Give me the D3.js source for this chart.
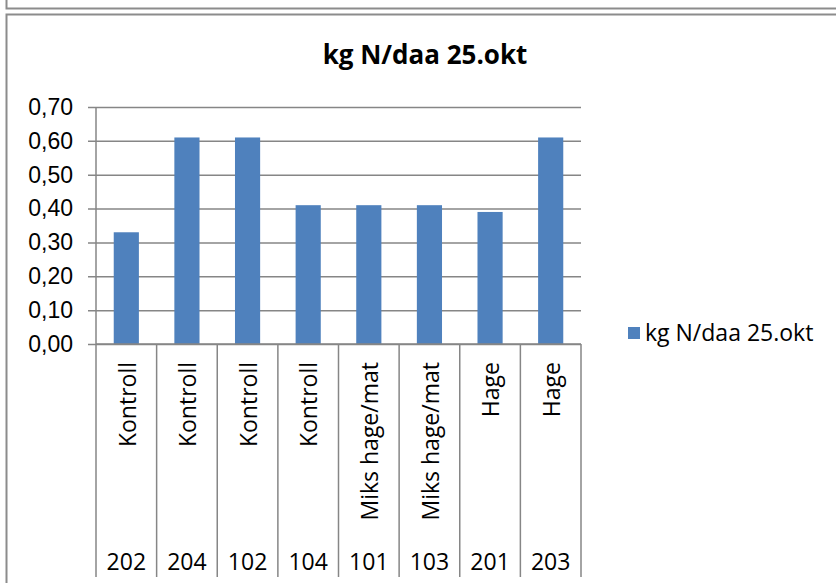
<!DOCTYPE html>
<html>
<head>
<meta charset="utf-8">
<script src="https://cdn.jsdelivr.net/npm/d3@7"></script>
<style>
  body { margin: 0; background: #fff; }
  svg { display: block; font-family: "Open Sans", "Liberation Sans", sans-serif; }
  .axis-text { font-size: 23px; fill: #000; }
</style>
</head>
<body>
<svg id="chart"></svg>
<script>
// data
const plotIds = ['202', '204', '102', '104', '101', '103', '201', '203'];
const treatments = ['Kontroll', 'Kontroll', 'Kontroll', 'Kontroll', 'Miks hage/mat', 'Miks hage/mat', 'Hage', 'Hage'];
const nValues = [0.33, 0.61, 0.61, 0.41, 0.41, 0.41, 0.39, 0.61];
const yTicks = [0, 0.1, 0.2, 0.3, 0.4, 0.5, 0.6, 0.7];
const seriesName = 'kg N/daa 25.okt';

const width = 836, height = 583;
const margin = {top: 107, right: 255, bottom: 239, left: 96};
const gridColor = '#868686';
const barColor = '#4f81bd';

const svg = d3.select('#chart')
    .attr('width', width)
    .attr('height', height);

// frames (previous chart box peeking at top, and this chart's box)
svg.append('path')
    .attr('d', `M6.5,0 V8.5 H${width}`)
    .attr('fill', 'none').attr('stroke', '#8c8c8c').attr('stroke-width', 2);
svg.append('path')
    .attr('d', `M6.5,${height} V14.5 H${width}`)
    .attr('fill', 'none').attr('stroke', '#8c8c8c').attr('stroke-width', 2);

const x = d3.scaleBand()
    .domain(d3.range(plotIds.length))
    .range([margin.left, width - margin.right])
    .paddingInner(0.585)
    .paddingOuter(0.2925);

const y = d3.scaleLinear()
    .domain([0, 0.7])
    .range([height - margin.bottom, margin.top]);

const fmt = v => d3.format('.2f')(v).replace('.', ',');

// y axis with gridlines
const yAxis = d3.axisLeft(y)
    .tickValues(yTicks)
    .tickSize(-(width - margin.right - margin.left))
    .tickFormat(fmt)
    .tickPadding(23);

svg.append('g')
    .attr('transform', `translate(${margin.left},0)`)
    .call(yAxis)
    .call(g => g.select('.domain').remove())
    .call(g => g.selectAll('.tick line')
        .attr('x1', -8)
        .attr('stroke', gridColor)
        .attr('stroke-width', 1.5))
    .call(g => g.selectAll('.tick text')
        .attr('class', 'axis-text')
        .attr('font-family', null)
        .attr('font-size', null));

// vertical axis line
svg.append('line')
    .attr('x1', margin.left).attr('x2', margin.left)
    .attr('y1', y(0.7)).attr('y2', y(0))
    .attr('stroke', gridColor).attr('stroke-width', 1.5);

// bars
svg.append('g')
    .selectAll('rect')
    .data(nValues)
    .join('rect')
    .attr('x', (d, i) => x(i))
    .attr('y', d => y(d))
    .attr('width', x.bandwidth())
    .attr('height', d => y(0) - y(d))
    .attr('fill', barColor);

// category axis: two-level labels with separators
const step = x.step();
const catBottom = 577;
const separators = d3.range(plotIds.length + 1).map(i => margin.left + i * step);

svg.append('g')
    .selectAll('line')
    .data(separators)
    .join('line')
    .attr('x1', d => d).attr('x2', d => d)
    .attr('y1', y(0)).attr('y2', catBottom)
    .attr('stroke', gridColor).attr('stroke-width', 1.5);

svg.append('line')
    .attr('x1', margin.left).attr('x2', width - margin.right)
    .attr('y1', y(0)).attr('y2', y(0))
    .attr('stroke', gridColor).attr('stroke-width', 1.5);

const center = i => x(i) + x.bandwidth() / 2;

svg.append('g')
    .selectAll('text')
    .data(treatments)
    .join('text')
    .attr('class', 'axis-text')
    .attr('transform', (d, i) => `translate(${center(i) + 1},362) rotate(-90)`)
    .attr('text-anchor', 'end')
    .attr('dy', '0.36em')
    .text(d => d);

svg.append('g')
    .selectAll('text')
    .data(plotIds)
    .join('text')
    .attr('class', 'axis-text')
    .attr('x', (d, i) => center(i))
    .attr('y', 570)
    .attr('text-anchor', 'middle')
    .text(d => d);

// title
svg.append('text')
    .attr('x', 425)
    .attr('y', 64)
    .attr('text-anchor', 'middle')
    .attr('font-size', 26)
    .attr('font-weight', 'bold')
    .text(seriesName);

// legend
const legend = svg.append('g').attr('transform', 'translate(628,333)');
legend.append('rect')
    .attr('x', 0).attr('y', -6)
    .attr('width', 12).attr('height', 12)
    .attr('fill', barColor);
legend.append('text')
    .attr('class', 'axis-text')
    .attr('x', 17)
    .attr('dy', '0.35em')
    .text(seriesName);
</script>
</body>
</html>
